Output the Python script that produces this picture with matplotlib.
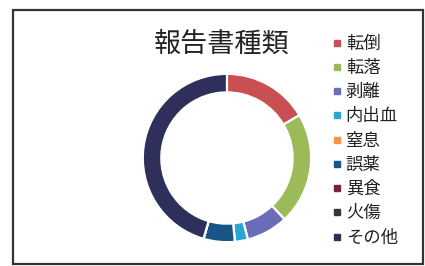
import matplotlib.pyplot as plt
from matplotlib.lines import Line2D
from matplotlib.patches import Rectangle

plt.rcParams['font.family'] = ['Noto Sans CJK JP', 'DejaVu Sans']

# 報告書種類ごとの割合 (%)
categories = ['転倒', '転落', '剥離', '内出血', '窒息', '誤薬', '異食', '火傷', 'その他']
values = [16.5, 21.5, 8.0, 2.5, 0.0, 6.0, 0.0, 0.0, 45.5]
colors = ['#C94F52', '#9BBB59', '#6A6DB8', '#2AA6D2', '#F79646',
          '#1B5486', '#7A2236', '#38382E', '#2E2F5A']

fig = plt.figure(figsize=(4.25, 2.66), dpi=100)

# outer frame
fig.patches.append(Rectangle((13 / 425, 2 / 266), 410 / 425, 254 / 266,
                             transform=fig.transFigure, fill=False,
                             edgecolor='#333333', lw=1.6))

ax = fig.add_axes([0.334, 0.0865, 0.4, 0.639])
ax.pie(values, colors=colors, startangle=90, counterclock=False, radius=1,
       wedgeprops=dict(width=0.22, edgecolor='white', linewidth=1.6))
ax.set_xlim(-1.01, 1.01)
ax.set_ylim(-1.01, 1.01)
ax.set_aspect('equal')

fig.text(0.522, 0.835, '報告書種類', ha='center', va='center', fontsize=19.5, color='#222222')

handles = [Line2D([], [], marker='s', ls='', color=c, markersize=4) for c in colors]
fig.legend(handles, categories, loc='upper left', bbox_to_anchor=(0.785, 0.87),
           frameon=False, fontsize=12.5, handlelength=0.4, handletextpad=0.3,
           labelspacing=0.36, borderpad=0, borderaxespad=0, labelcolor='#222222')

fig.savefig('out.png', dpi=100)
